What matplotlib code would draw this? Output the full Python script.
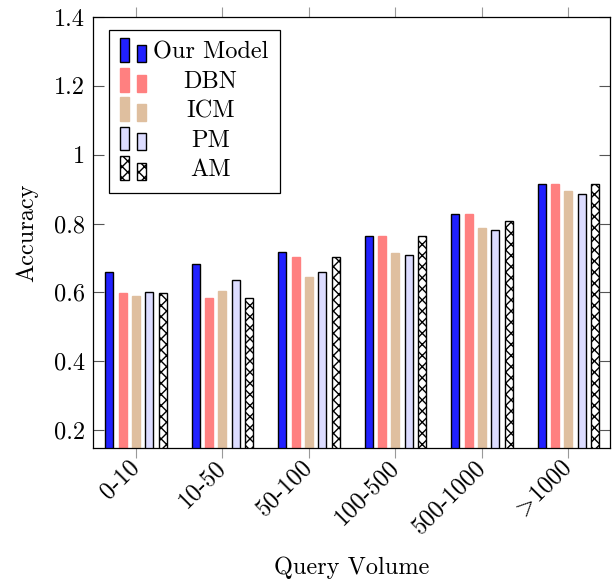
import numpy as np
import matplotlib
matplotlib.use("Agg")
import matplotlib.pyplot as plt
from matplotlib.patches import Rectangle
from matplotlib.legend_handler import HandlerBase
from matplotlib.transforms import Affine2D

plt.rcParams['font.family'] = 'serif'
plt.rcParams['font.serif'] = ['cmr10']
plt.rcParams['mathtext.fontset'] = 'cm'
plt.rcParams['axes.unicode_minus'] = False
plt.rcParams['hatch.linewidth'] = 1.0

FS = 17.5

# data
categories = ["0-10", "10-50", "50-100", "100-500", "500-1000", r"$\!>\!$1000"]
our_model = [0.66, 0.683, 0.718, 0.765, 0.829, 0.915]
dbn = [0.598, 0.585, 0.704, 0.765, 0.827, 0.915]
icm = [0.590, 0.605, 0.645, 0.714, 0.788, 0.894]
pm = [0.601, 0.637, 0.659, 0.710, 0.780, 0.887]
am = [0.598, 0.584, 0.703, 0.764, 0.806, 0.914]
series_names = ["Our Model", "DBN", "ICM", "PM", "AM"]
yticks = [0.2, 0.4, 0.6, 0.8, 1.0, 1.2, 1.4]

styles = [
    dict(facecolor="#2121ff", edgecolor="black", linewidth=1.0),
    dict(facecolor="#ff8080", edgecolor="#ff8080", linewidth=1.0),
    dict(facecolor="#dfbf9f", edgecolor="#dfbf9f", linewidth=1.0),
    dict(facecolor="#dcdcff", edgecolor="black", linewidth=1.0),
    dict(facecolor="white", edgecolor="black", linewidth=1.0, hatch="xxx"),
]


class TwoBars(HandlerBase):
    # pgfplots-like ybar legend: two small bars
    def create_artists(self, legend, orig_handle, xdescent, ydescent,
                       width, height, fontsize, trans):
        bw = width * 0.36
        h1 = height * 1.4
        h2 = height * 1.0
        y0 = -ydescent - height * 0.2
        arts = []
        for x, h in [(-xdescent, h1), (-xdescent + width - bw, h2)]:
            r = Rectangle((x, y0), bw, h)
            r.set_facecolor(orig_handle.get_facecolor())
            r.set_edgecolor(orig_handle.get_edgecolor())
            r.set_linewidth(orig_handle.get_linewidth())
            r.set_hatch(orig_handle.get_hatch())
            r.set_transform(trans)
            arts.append(r)
        return arts


fig = plt.figure(figsize=(6.15, 5.8), dpi=100)
ax = fig.add_axes([93 / 615, 1 - 448 / 580, 517 / 615, 431 / 580])

x = np.arange(len(categories))
step = 0.154
width = 0.0925
handles = []
for i, (vals, st) in enumerate(zip([our_model, dbn, icm, pm, am], styles)):
    bars = ax.bar(x + (i - 2) * step, vals, width, label=series_names[i], **st)
    handles.append(bars.patches[0])

ax.set_ylim(0.148, 1.4)
ax.set_xlim(-0.497, 5.48)
ax.set_yticks(yticks)
ax.set_yticklabels(["%g" % v for v in yticks])
ax.set_xticks(x)
ax.set_xticklabels(categories, rotation=45, ha="right", va="center",
                   rotation_mode="anchor")

ax.tick_params(axis="y", direction="in", length=8, width=0.8, color="#555555",
               left=True, right=True, labelsize=FS, pad=6)
ax.tick_params(axis="x", direction="out", length=7.5, width=0.8, color="#999999",
               bottom=True, top=True, labelsize=FS, pad=4)
for sp in ax.spines.values():
    sp.set_linewidth(0.9)

ax.set_ylabel("Accuracy", fontsize=FS)
ax.yaxis.set_label_coords(-0.105, 0.5)
ax.set_xlabel("Query Volume", fontsize=FS)
ax.xaxis.set_label_coords(0.5, -0.252)

leg = ax.legend(handles=handles, labels=series_names, loc="upper left",
                bbox_to_anchor=(0.03, 0.97), borderaxespad=0, fontsize=FS,
                handler_map={Rectangle: TwoBars()}, handlelength=1.05,
                handletextpad=0.3, labelspacing=0.3, borderpad=0.48,
                fancybox=False, framealpha=1, edgecolor="black")
leg.get_frame().set_linewidth(0.9)

# center the legend texts in their column like pgfplots
fig.canvas.draw()
r = fig.canvas.get_renderer()
texts = leg.get_texts()
ws = [t.get_window_extent(r).width for t in texts]
wmax = max(ws)
for t, w in zip(texts, ws):
    t.set_transform(Affine2D().translate((wmax - w) / 2, 0) + t.get_transform())

fig.savefig("out.png", dpi=100)
